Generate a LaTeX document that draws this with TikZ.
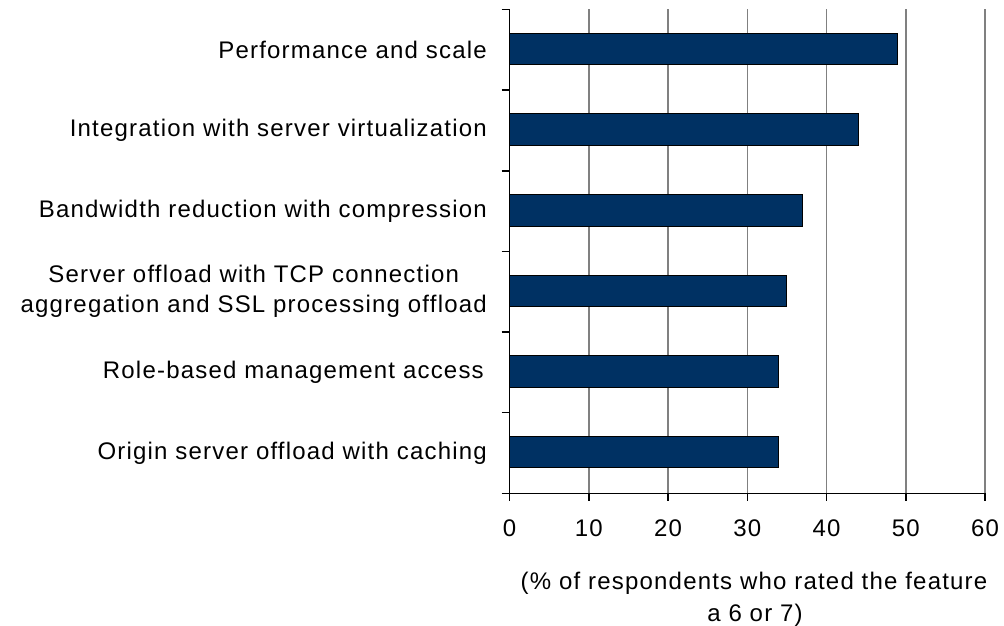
\documentclass[tikz,border=0pt]{standalone}
\usepackage{fontspec}
\setmainfont[LetterSpace=5]{Liberation Sans}
\definecolor{barblue}{RGB}{0,49,99}
\definecolor{gridgray}{RGB}{128,128,128}
\begin{document}
\begin{tikzpicture}[x=1pt,y=-1pt,
  catlabel/.style={anchor=east,inner sep=0pt,font=\fontsize{24}{30}\selectfont,align=center},
  ticklabel/.style={anchor=center,inner sep=0pt,font=\fontsize{24}{30}\selectfont},
  bar/.style={draw=black,line width=1pt,fill=barblue},
  gridline/.style={draw=gridgray,line width=1.5pt},
  axisline/.style={draw=black,line width=1.5pt}]
\useasboundingbox (0,0) rectangle (1004,626);
\def\xo{509.5}\def\yt{9.5}\def\yb{493.3}\def\u{7.925}\def\ch{80.63}
% grid lines
\foreach \v in {10,20,...,60}{
  \draw[gridline] ({\xo+\v*\u},\yt) -- ({\xo+\v*\u},\yb);
}
% bars
\foreach \val [count=\i from 0] in {49,44,37,35,34,34}{
  \draw[bar] (\xo,{\yt+\ch*(\i+0.5)-16.5}) rectangle ({\xo+\val*\u},{\yt+\ch*(\i+0.5)+15});
}
% axes
\draw[axisline] (\xo,\yt) -- (\xo,\yb) -- (985,\yb);
\foreach \i in {0,...,6}{
  \draw[axisline] (501.7,{\yt+\ch*\i}) -- (\xo,{\yt+\ch*\i});
}
\foreach \v in {0,10,...,60}{
  \draw[axisline] ({\xo+\v*\u},\yb) -- ({\xo+\v*\u},501);
  \node[ticklabel] (t\v) at ({\xo+\v*\u},528.5) {\v};
}
% category labels
\node[catlabel] (c1) at (487,{\yt+\ch*0.5}) {Performance and scale};
\node[catlabel] (c2) at (487,{\yt+\ch*1.5}) {Integration with server virtualization};
\node[catlabel] (c3) at (487,{\yt+\ch*2.5}) {Bandwidth reduction with compression};
\node[catlabel] (c4) at (487,{\yt+\ch*3.5}) {Server offload with TCP connection\\aggregation and SSL processing offload};
\node[catlabel] (c5) at (484,{\yt+\ch*4.5}) {Role-based management access};
\node[catlabel] (c6) at (487,{\yt+\ch*5.5}) {Origin server offload with caching};
% axis title
\node[anchor=base,inner sep=0pt,font=\fontsize{24}{32}\selectfont] (ttl1) at (754,589) {(\% of respondents who rated the feature};
\node[anchor=base,inner sep=0pt,font=\fontsize{24}{32}\selectfont] (ttl2) at (755,621) {a 6 or 7)};
\end{tikzpicture}
\end{document}
